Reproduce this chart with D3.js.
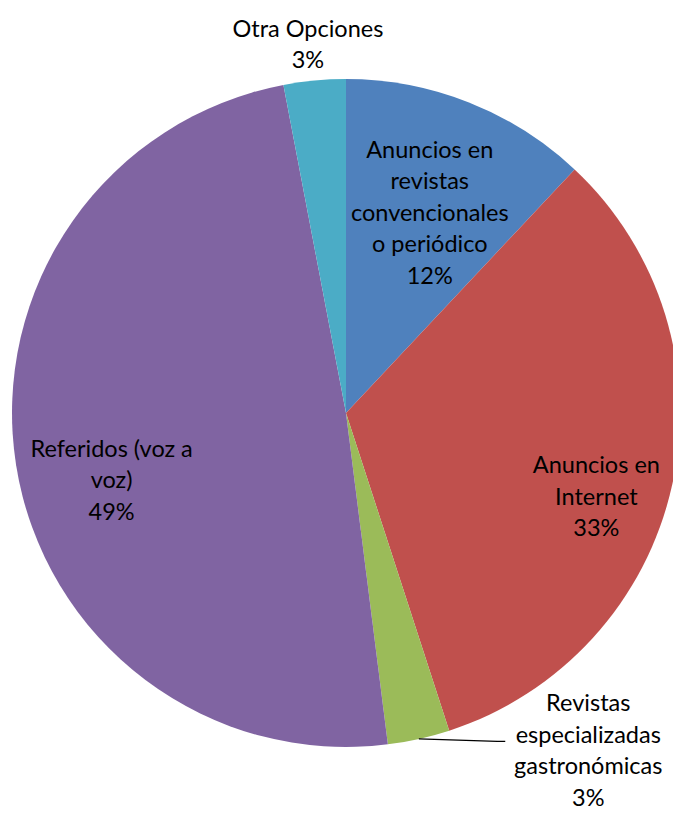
<!DOCTYPE html>
<html>
<head>
<meta charset="utf-8">
<script src="https://cdn.jsdelivr.net/npm/d3@7"></script>
<style>
  html, body { margin: 0; padding: 0; background: #fff; }
  svg { display: block; }
  text { font-family: Lato, "Noto Sans", sans-serif; font-size: 23.5px; fill: #000; }
</style>
</head>
<body>
<svg id="chart" width="673" height="813"></svg>
<script>
// Medios por los que los clientes conocieron el restaurante (porcentaje)
const categories = [
  ["Anuncios en", "revistas", "convencionales", "o periódico"],
  ["Anuncios en", "Internet"],
  ["Revistas", "especializadas", "gastronómicas"],
  ["Referidos (voz a", "voz)"],
  ["Otra Opciones"]
];
const values = [12, 33, 3, 49, 3];
const colors = ["#4F81BD", "#C0504D", "#9BBB59", "#8064A2", "#4BACC6"];

// Label placement: angle (degrees clockwise from 12 o'clock) and distance as a fraction of the radius
const labelLayout = [
  { angle: 22.7, dist: 0.65 },
  { angle: 108.4, dist: 0.79 },
  { angle: 144.3, dist: 1.243, leader: true },
  { angle: 254, dist: 0.73 },
  { angle: 354.1, dist: 1.11 }
];

const svg = d3.select("#chart");
const cx = 346, cy = 413, radius = 334, lineH = 31.5;
const g = svg.append("g").attr("transform", `translate(${cx},${cy})`);

const pie = d3.pie().sort(null).value(d => d.value);
const arcs = pie(values.map((v, i) => ({ value: v, i })));
const arc = d3.arc().innerRadius(0).outerRadius(radius);

g.selectAll("path.slice")
  .data(arcs)
  .join("path")
  .attr("class", "slice")
  .attr("d", arc)
  .attr("fill", d => colors[d.data.i]);

const pol = (deg, r) => {
  const a = deg * Math.PI / 180;
  return [Math.sin(a) * r, -Math.cos(a) * r];
};

arcs.forEach(d => {
  const i = d.data.i;
  const lay = labelLayout[i];
  const [lx, ly] = pol(lay.angle, lay.dist * radius);
  const lines = categories[i].concat([d3.format(".0f")(d.data.value) + "%"]);
  const top = ly - (lines.length - 1) * lineH / 2;
  const t = g.append("text").attr("text-anchor", "middle");
  lines.forEach((s, k) => {
    t.append("tspan").attr("x", lx).attr("y", top + k * lineH).attr("dy", "0.35em").text(s);
  });
  if (lay.leader) {
    // leader line from the slice edge to the label's second line
    const mid = (d.startAngle + d.endAngle) / 2 * 180 / Math.PI;
    const [ax, ay] = pol(mid, radius);
    const ex = lx - 83, ey = top + lineH + 7;
    g.append("path")
      .attr("d", `M${ax},${ay}L${ex - 8},${ey}L${ex},${ey}`)
      .attr("fill", "none")
      .attr("stroke", "#000")
      .attr("stroke-width", 1.3);
  }
});
</script>
</body>
</html>
